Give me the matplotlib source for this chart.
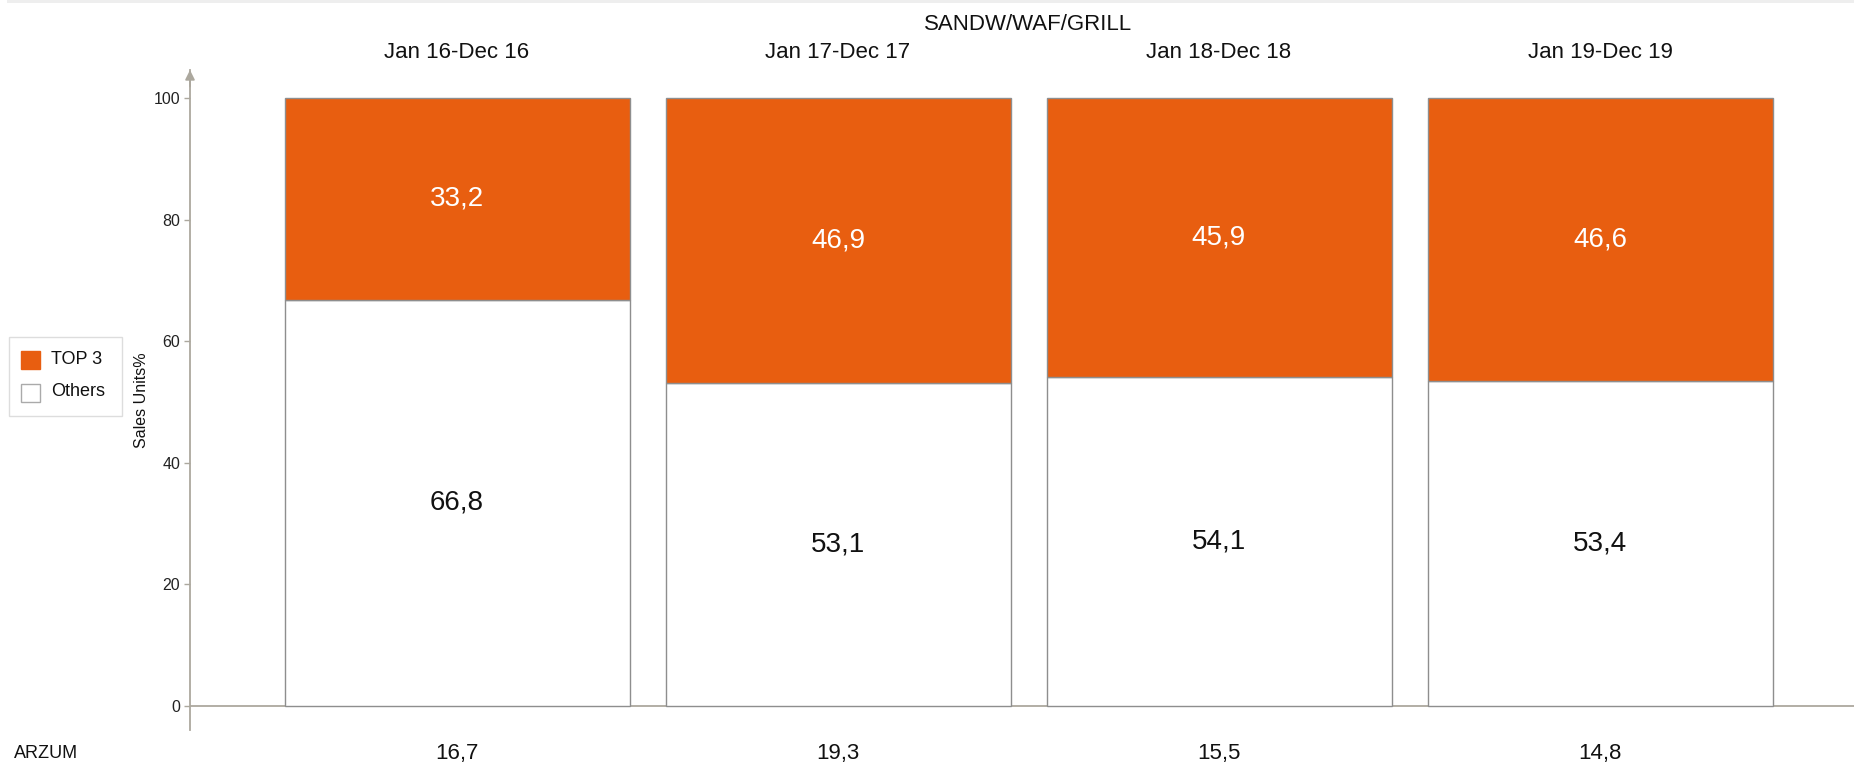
import matplotlib
matplotlib.use("Agg")
import matplotlib.pyplot as plt
from matplotlib.patches import Rectangle

plt.rcParams['font.family'] = ['Liberation Sans', 'DejaVu Sans']

# ---- data ----
title = "SANDW/WAF/GRILL"
periods = ["Jan 16-Dec 16", "Jan 17-Dec 17", "Jan 18-Dec 18", "Jan 19-Dec 19"]
series_names = ["TOP 3", "Others"]
top3 = [33.2, 46.9, 45.9, 46.6]
others = [66.8, 53.1, 54.1, 53.4]
row_label = "ARZUM"
row_values = [16.7, 19.3, 15.5, 14.8]
y_label = "Sales Units%"
y_ticks = [0, 20, 40, 60, 80, 100]

ORANGE = "#E85E10"
AXIS = "#aca89e"
EDGE = "#8e8e8e"

W, H = 1854, 765
fig = plt.figure(figsize=(W / 100, H / 100), dpi=100)

def fx(px):
    return px / W

def fy(py):
    return 1 - py / H

# top grey strip
fig.add_artist(Rectangle((fx(7), fy(3)), 1, 3 / H, transform=fig.transFigure,
                         facecolor="#eeeeee", edgecolor="none"))

ax = fig.add_axes([fx(190), fy(730), (W - 190) / W, (730 - 70) / H])
ppu = 6.08  # pixels per y unit
ax.set_ylim(-(730 - 706) / ppu, (706 - 70) / ppu)
spacing = 381.0
xl = -(457 - 190) / spacing
ax.set_xlim(xl, xl + (W - 190) / spacing)

x = list(range(len(periods)))
bw = 345 / spacing
ax.bar(x, others, width=bw, color="white", edgecolor=EDGE, linewidth=1, zorder=3)
ax.bar(x, top3, width=bw, bottom=others, color=ORANGE, edgecolor=EDGE, linewidth=1, zorder=3)

for i in x:
    ax.text(i, others[i] + top3[i] / 2, f"{top3[i]:.1f}".replace(".", ","),
            ha="center", va="center", color="white", fontsize=20, zorder=4)
    ax.text(i, others[i] / 2, f"{others[i]:.1f}".replace(".", ","),
            ha="center", va="center", color="#111111", fontsize=20, zorder=4)
    ax.text(i, (706 - 52) / ppu, periods[i], ha="center", va="center",
            fontsize=16, color="#111111", clip_on=False)
    ax.text(i, (706 - 753) / ppu, f"{row_values[i]:.1f}".replace(".", ","),
            ha="center", va="center", fontsize=16, color="#111111", clip_on=False)

ax.text(sum(x) / len(x), (706 - 24) / ppu, title, ha="center", va="center",
        fontsize=16, color="#111111", clip_on=False)
fig.text(fx(14), fy(753), row_label, ha="left", va="center", fontsize=13, color="#111111")

# axes styling
for s in ["top", "right", "bottom"]:
    ax.spines[s].set_visible(False)
ax.spines["left"].set_color(AXIS)
ax.spines["left"].set_linewidth(1.3)
ax.axhline(0, color=AXIS, linewidth=1.3, zorder=2)
ax.annotate("", xy=(0, 1), xytext=(0, 0.975), xycoords="axes fraction",
            arrowprops=dict(arrowstyle="-|>", color=AXIS, lw=1.3, mutation_scale=14,
                            shrinkA=0, shrinkB=0))
ax.set_xticks([])
ax.set_yticks(y_ticks)
ax.set_yticklabels([str(t) for t in y_ticks])
ax.tick_params(axis="y", direction="out", length=4, width=1, color=AXIS,
               labelsize=11.5, labelcolor="#222222", pad=3)
fig.text(fx(141), fy(400), y_label, rotation=90, ha="center", va="center",
         fontsize=11.5, color="#111111")

# legend (manual)
fig.add_artist(Rectangle((fx(9), fy(416)), (122 - 9) / W, (416 - 337) / H,
                         transform=fig.transFigure, facecolor="white",
                         edgecolor="#dddddd", linewidth=1))
sw_colors = [ORANGE, "white"]
sw_edges = [ORANGE, "#aaaaaa"]
sw_tops = [351, 384]
for name, c, e, t in zip(series_names, sw_colors, sw_edges, sw_tops):
    fig.add_artist(Rectangle((fx(21), fy(t + 18)), 19 / W, 18 / H,
                             transform=fig.transFigure, facecolor=c,
                             edgecolor=e, linewidth=1))
    fig.text(fx(51), fy(t + 8), name, ha="left", va="center", fontsize=13, color="#111111")

fig.savefig("out.png", dpi=100)
